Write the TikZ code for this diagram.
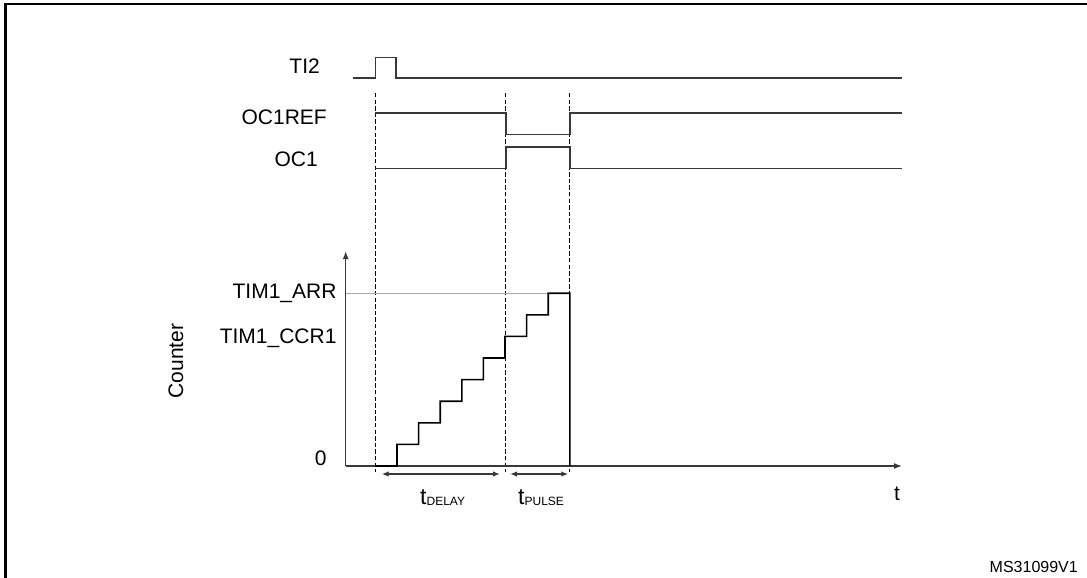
\documentclass[tikz,border=0pt]{standalone}
\usepackage{fontspec}
\setmainfont{Liberation Sans}
\usetikzlibrary{arrows.meta}
\definecolor{sigc}{HTML}{383838}
\definecolor{refc}{HTML}{A8A8A8}
\begin{document}
\begin{tikzpicture}[x=1pt,y=-1pt,
  lbl/.style={font=\fontsize{21}{21}\selectfont, inner sep=0pt},
  sig/.style={line width=1.8pt, draw=sigc},
  guide/.style={line width=1.3pt, draw=black, dash pattern=on 4.3pt off 2.3pt},
  cnt/.style={line width=1.6pt, draw=black},
  axis/.style={line width=1.5pt, draw=sigc, -{Latex[length=8pt,width=6pt]}},
  span/.style={line width=1.4pt, draw=sigc, {Latex[length=7pt,width=5.5pt]}-{Latex[length=7pt,width=5.5pt]}}
]
\useasboundingbox (0,0) rectangle (1087,578);
% frame (only top and left edges visible)
\draw[line width=2.3pt] (5.5,578) -- (5.5,4) -- (1087,4);

% labels
\node[lbl, anchor=base east] (ti2) at (320,73.5) {TI2};
\node[lbl, anchor=base east] (oc1ref) at (327,124) {OC1REF};
\node[lbl, anchor=base east] (oc1) at (318,166) {OC1};
\node[lbl, anchor=base east] (arr) at (336.7,298.5) {TIM1\_ARR};
\node[lbl, anchor=base east] (ccr) at (336.7,343.5) {TIM1\_CCR1};
\node[lbl, anchor=base east] (zero) at (326.7,465.5) {0};
\node[lbl, rotate=90] (counter) at (176,361) {Counter};
\node[lbl, anchor=base] (tlab) at (897,500) {t};
\node[inner sep=0pt, anchor=base west] (tdelay) at (420,504)
  {\fontsize{23}{23}\selectfont t\fontsize{12}{12}\selectfont\raisebox{-1pt}{DELAY}};
\node[inner sep=0pt, anchor=base west] (tpulse) at (518,504)
  {\fontsize{23}{23}\selectfont t\fontsize{12}{12}\selectfont\raisebox{-1pt}{PULSE}};
\node[inner sep=0pt, anchor=base east, font=\fontsize{16}{16}\selectfont] (ms) at (1078,572) {MS31099V1};

% dashed guides at the key time instants
\foreach \x in {375.4,505.6,569.8} \draw[guide] (\x,93) -- (\x,472);

% TI2
\draw[sig] (353,77.7) -- (375.4,77.7) -- (375.4,57.5) -- (395.7,57.5) -- (395.7,77.7) -- (902,77.7);
% OC1REF
\draw[sig] (375.4,113) -- (505.6,113) -- (505.6,134.5) -- (569.8,134.5) -- (569.8,113) -- (902,113);
% OC1
\draw[sig] (375.4,168.5) -- (505.6,168.5) -- (505.6,147) -- (569.8,147) -- (569.8,168.5) -- (902,168.5);

% ARR reference level
\draw[line width=1.2pt, draw=refc] (345.7,293.2) -- (548,293.2);

% axes
\coordinate (org) at (345.7,466);
\coordinate (ytip) at (345.7,251);
\coordinate (xtip) at (902,466);
\draw[axis] (org) -- (ytip);
\draw[axis] (org) -- (xtip);

% counter staircase
\draw[cnt] (375.4,466)
  \foreach \k in {0,...,8} {
    -- ({375.4+21.6*\k},{466-21.6*\k}) -- ({375.4+21.6*(\k+1)},{466-21.6*\k})
  } -- (569.8,466);

% duration arrows
\coordinate (d1) at (381.7,474);
\coordinate (d2) at (500,474);
\coordinate (p1) at (510,474);
\coordinate (p2) at (568.3,474);
\draw[span] (d1) -- (d2);
\draw[span] (p1) -- (p2);
\end{tikzpicture}
\end{document}
